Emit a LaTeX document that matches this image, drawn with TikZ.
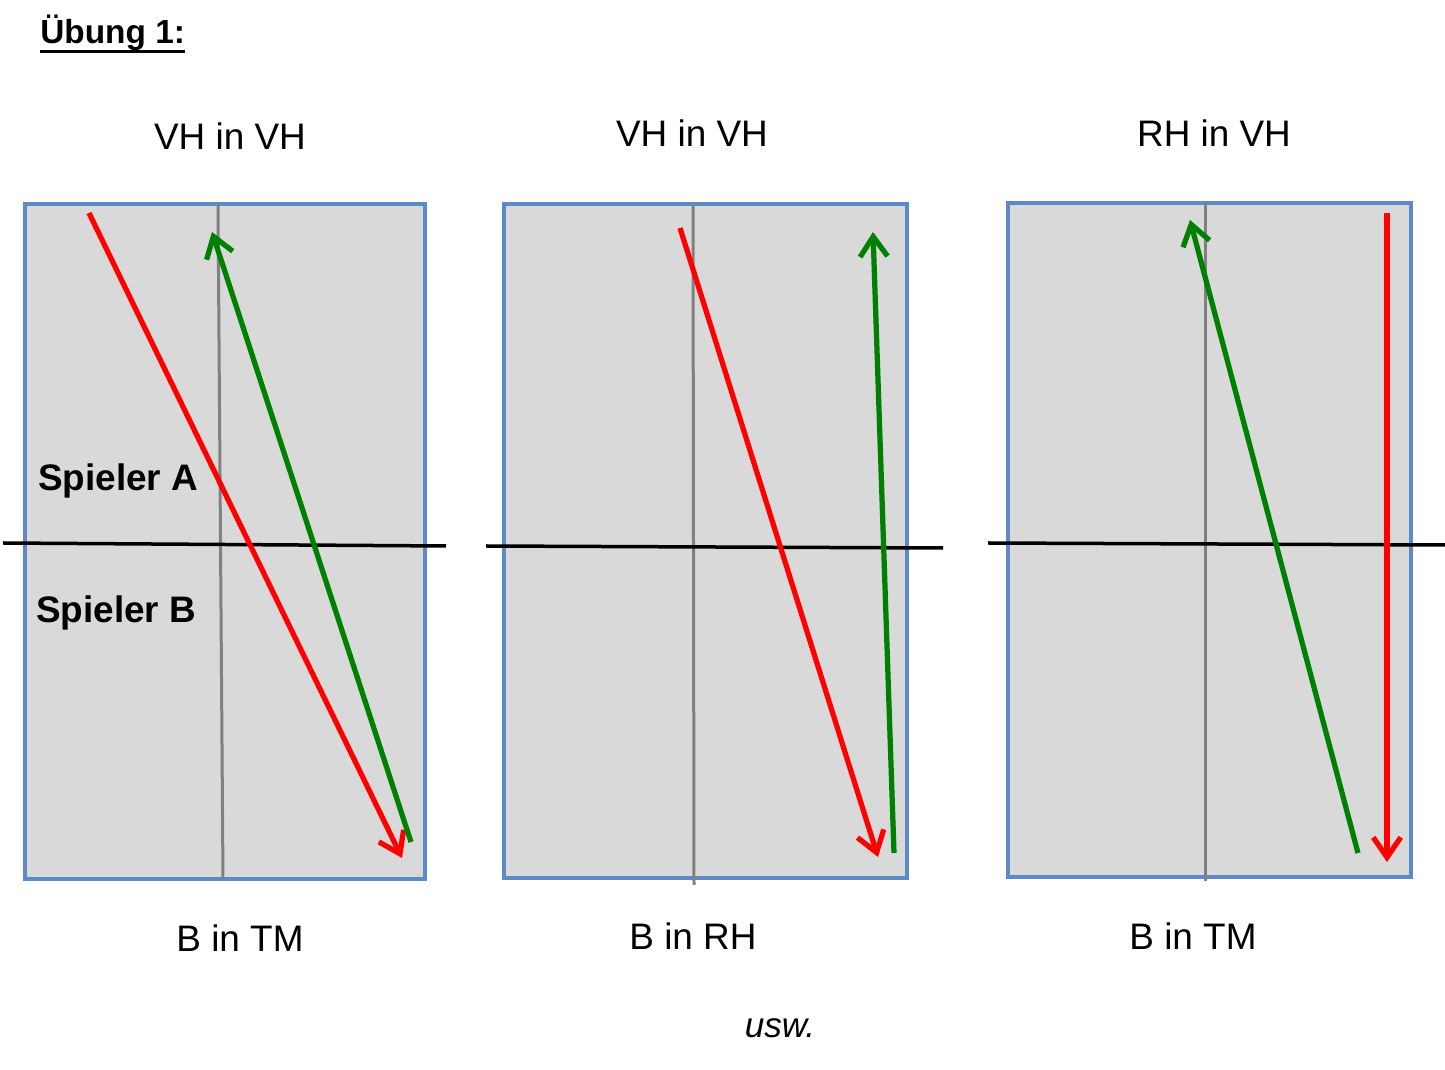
\documentclass[tikz,border=0pt]{standalone}
\usepackage{fontspec}
\setmainfont{Liberation Sans}
\usetikzlibrary{arrows.meta}
\definecolor{fieldblue}{RGB}{91,138,198}
\definecolor{fieldgrey}{RGB}{217,217,217}
\definecolor{shotgreen}{RGB}{0,128,0}

\begin{document}
\begin{tikzpicture}[
	x=0.02cm, y=-0.02cm,
	>={Straight Barb[length=4mm,width=5.5mm]},
	field/.style={draw=fieldblue, fill=fieldgrey, line width=0.65mm},
	midline/.style={draw=black!50, line width=0.6mm},
	netline/.style={draw=black, line width=0.7mm},
	shot/.style={->, line width=1.05mm, #1},
	shot/.default=red,
	heading/.style={font=\fontsize{21}{25}\selectfont},
	player/.style={font=\fontsize{21}{25}\selectfont\bfseries, anchor=west}
	]
    \useasboundingbox (0,0) rectangle (1445,1070);
    % title
    \node[anchor=west, inner sep=0pt, font=\fontsize{19}{23}\selectfont\bfseries] at (40,33) (title) {Übung 1:};
    \draw[line width=0.6mm] ([yshift=-1.5mm]title.base west) -- ([yshift=-1.5mm]title.base east);

    % field 1
    \draw[field] (25,204) rectangle (425,879);
    \coordinate (m1t) at (218,204); \coordinate (m1b) at (223,879);
    \draw[midline] (m1t) -- (m1b);
    \coordinate (n1l) at (3,543); \coordinate (n1r) at (446,546);
    \draw[netline] (n1l) -- (n1r);
    \node[heading] at (230,136) (h1) {VH in VH};
    \node[heading] at (240,938) (f1) {B in TM};
    \node[player] at (32,481) (spa) {Spieler A};
    \node[player] at (30,613) (spb) {Spieler B};
    \coordinate (r1s) at (89,213); \coordinate (r1e) at (402,858);
    \coordinate (g1s) at (411,842); \coordinate (g1e) at (212,232);
    \draw[shot] (r1s) -- (r1e);
    \draw[shot=shotgreen] (g1s) -- (g1e);

    % field 2
    \draw[field] (504,204) rectangle (907,878);
    \coordinate (m2t) at (693,204); \coordinate (m2b) at (694,885);
    \draw[midline] (m2t) -- (m2b);
    \coordinate (n2l) at (486,546); \coordinate (n2r) at (943,548);
    \draw[netline] (n2l) -- (n2r);
    \node[heading] at (692,133) (h2) {VH in VH};
    \node[heading] at (693,936) (f2) {B in RH};
    \coordinate (r2s) at (680,228); \coordinate (r2e) at (878,857);
    \coordinate (g2s) at (894,853); \coordinate (g2e) at (873,232);
    \draw[shot] (r2s) -- (r2e);
    \draw[shot=shotgreen] (g2s) -- (g2e);

    % field 3
    \draw[field] (1008,203) rectangle (1411,877);
    \coordinate (m3t) at (1205,203); \coordinate (m3b) at (1205,881);
    \draw[midline] (m3t) -- (m3b);
    \coordinate (n3l) at (988,543); \coordinate (n3r) at (1445,545);
    \draw[netline] (n3l) -- (n3r);
    \node[heading] at (1214,133) (h3) {RH in VH};
    \node[heading] at (1193,936) (f3) {B in TM};
    \coordinate (g3s) at (1358,853); \coordinate (g3e) at (1190,220);
    \coordinate (r3s) at (1387,213); \coordinate (r3e) at (1387,862);
    \draw[shot=shotgreen] (g3s) -- (g3e);
    \draw[shot] (r3s) -- (r3e);

    % etc
    \node[font=\fontsize{20}{24}\selectfont\itshape] at (780,1028) (etc) {usw.};
\end{tikzpicture}
\end{document}
